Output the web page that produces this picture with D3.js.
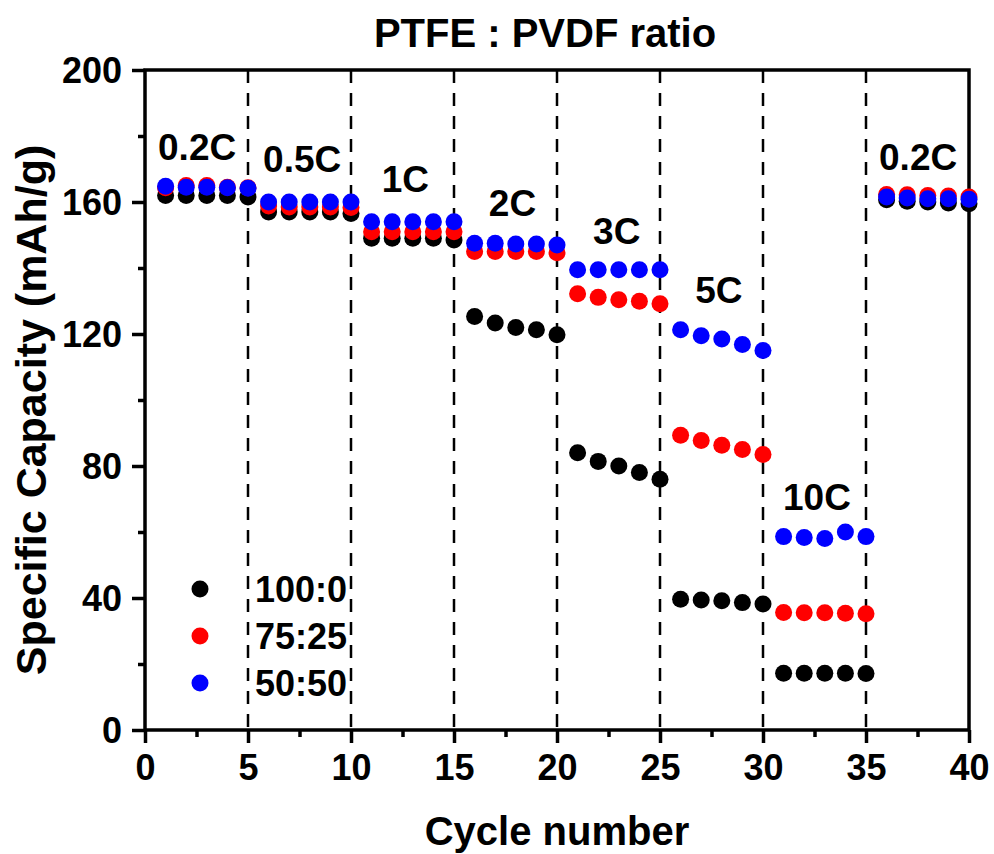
<!DOCTYPE html>
<html>
<head>
<meta charset="utf-8">
<script src="https://cdn.jsdelivr.net/npm/d3@7"></script>
<style>
  body { margin: 0; background: #fff; }
  svg text { font-family: "Liberation Sans", Arial, sans-serif; font-weight: bold; fill: #000; }
</style>
</head>
<body>
<svg width="994" height="854"></svg>
<script>
// data
const cycles = [1,2,3,4,5,6,7,8,9,10,11,12,13,14,15,16,17,18,19,20,
                21,22,23,24,25,26,27,28,29,30,31,32,33,34,35,36,37,38,39,40];
const ratio100_0 = [162,162,162,162,161.5, 157,157,157,157,156.5, 149,149,149,149,148.5,
                    125.3,123.3,122,121.3,119.8, 84,81.4,80,78,76, 39.6,39.4,39.2,38.6,38.2,
                    17.2,17.2,17.2,17.2,17.1, 160.7,160.2,160,159.7,159.5];
const ratio75_25 = [164.3,165,165,164.5,164.3, 158.8,158.5,158.5,158.5,158.3, 151,151,151,151,151,
                    145,145,145,145,144.6, 132.2,131.1,130.4,129.9,129.2, 89.3,87.7,86.3,85,83.5,
                    35.6,35.5,35.5,35.4,35.2, 162.3,162.2,162,161.8,161.5];
const ratio50_50 = [164.8,164.5,164.5,164.3,164.2, 160,160,160,160,160, 154,154,154,154,154,
                    147.5,147.5,147.3,147.3,147, 139.5,139.5,139.5,139.5,139.5, 121.3,119.5,118.5,116.8,115,
                    58.6,58.3,58,60,58.6, 161.5,161.2,161,161,160.8];
const seriesNames = ["100:0", "75:25", "50:50"];
const rateLabels = ["0.2C", "0.5C", "1C", "2C", "3C", "5C", "10C", "0.2C"];
const rateBreaks = [5, 10, 15, 20, 25, 30, 35];
const xTicks = [0, 5, 10, 15, 20, 25, 30, 35, 40];
const yTicks = [0, 40, 80, 120, 160, 200];

const colors = ["#000000", "#ff0000", "#0000ff"];
// where each rate label sits, in data units [cycle, capacity]
const labelPos = [[2.53,172.7],[7.63,169],[12.64,163],[17.84,155.8],[22.9,147.3],[27.86,129.4],[32.62,66.7],[37.53,169.7]];

const svg = d3.select("svg"),
      margin = {top: 70, right: 25, bottom: 124, left: 145},
      width = +svg.attr("width") - margin.left - margin.right,
      height = +svg.attr("height") - margin.top - margin.bottom;

const g = svg.append("g").attr("transform", `translate(${margin.left},${margin.top})`);

const x = d3.scaleLinear().domain([0, 40]).range([0, width]);
const y = d3.scaleLinear().domain([0, 200]).range([height, 0]);

// dashed rate separators
g.selectAll(".sep")
  .data(rateBreaks)
  .join("line")
    .attr("class", "sep")
    .attr("x1", d => x(d)).attr("x2", d => x(d))
    .attr("y1", 0).attr("y2", height)
    .attr("stroke", "#000")
    .attr("stroke-width", 2.5)
    .attr("stroke-dasharray", "13,10");

// minor ticks
g.append("g")
  .attr("transform", `translate(0,${height})`)
  .call(d3.axisBottom(x).tickValues(d3.range(2.5, 40, 5)).tickSize(7).tickFormat(""))
  .call(a => a.select(".domain").remove())
  .selectAll("line").attr("stroke-width", 3.5);
g.append("g")
  .call(d3.axisLeft(y).tickValues(d3.range(20, 200, 40)).tickSize(7).tickFormat(""))
  .call(a => a.select(".domain").remove())
  .selectAll("line").attr("stroke-width", 3.5);

// major axes
const xAxis = g.append("g")
  .attr("transform", `translate(0,${height})`)
  .call(d3.axisBottom(x).tickValues(xTicks).tickSize(13));
xAxis.select(".domain").remove();
xAxis.selectAll("line").attr("stroke-width", 3.5);
xAxis.selectAll("text").attr("font-size", 36).attr("y", 50).attr("dy", 0);

const yAxis = g.append("g")
  .call(d3.axisLeft(y).tickValues(yTicks).tickSize(13).tickPadding(10));
yAxis.select(".domain").remove();
yAxis.selectAll("line").attr("stroke-width", 3.5);
yAxis.selectAll("text").attr("font-size", 36).attr("dy", "0.36em");

// frame
g.append("rect")
  .attr("width", width).attr("height", height)
  .attr("fill", "none").attr("stroke", "#000").attr("stroke-width", 3.5);

// points, black under red under blue
const seriesData = [ratio100_0, ratio75_25, ratio50_50];
seriesData.forEach((vals, i) => {
  g.append("g")
    .selectAll("circle")
    .data(cycles.map((c, j) => [c, vals[j]]))
    .join("circle")
      .attr("cx", d => x(d[0]))
      .attr("cy", d => y(d[1]))
      .attr("r", 8.5)
      .attr("fill", colors[i]);
});

// rate annotations
g.selectAll(".rate")
  .data(rateLabels)
  .join("text")
    .attr("class", "rate")
    .attr("x", (d, i) => x(labelPos[i][0]))
    .attr("y", (d, i) => y(labelPos[i][1]))
    .attr("text-anchor", "middle")
    .attr("font-size", 37)
    .text(d => d);

// legend
const legend = g.selectAll(".legend")
  .data(seriesNames)
  .join("g")
    .attr("class", "legend")
    .attr("transform", (d, i) => `translate(55,${519 + i * 47})`);

legend.append("circle")
  .attr("r", 8.5)
  .attr("fill", (d, i) => colors[i]);

legend.append("text")
  .attr("x", 55)
  .attr("dy", "0.36em")
  .attr("font-size", 36)
  .text(d => d);

// titles
svg.append("text")
  .attr("x", margin.left + width / 2 - 12)
  .attr("y", 47)
  .attr("text-anchor", "middle")
  .attr("font-size", 40)
  .text("PTFE : PVDF ratio");

svg.append("text")
  .attr("x", margin.left + width / 2)
  .attr("y", 845)
  .attr("text-anchor", "middle")
  .attr("font-size", 40)
  .text("Cycle number");

svg.append("text")
  .attr("transform", `translate(46,410) rotate(-90)`)
  .attr("text-anchor", "middle")
  .attr("font-size", 43)
  .text("Specific Capacity (mAh/g)");
</script>
</body>
</html>
